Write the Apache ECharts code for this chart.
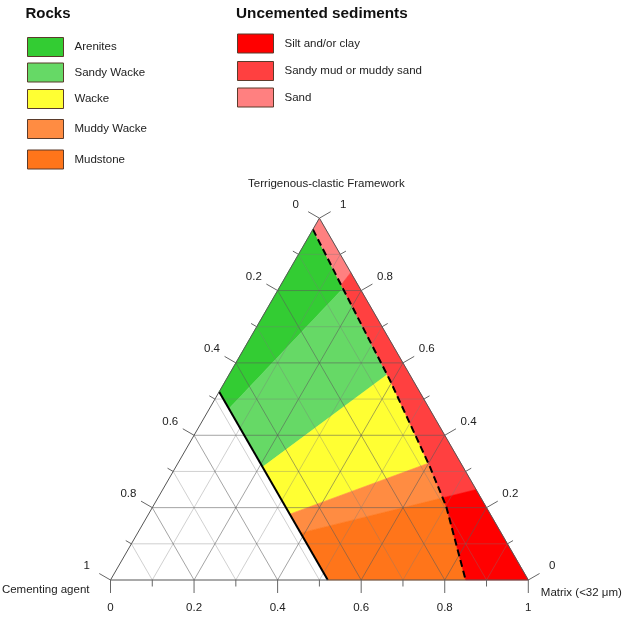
<!DOCTYPE html>
<html><head><meta charset="utf-8">
<script src="https://cdn.jsdelivr.net/npm/echarts@6/dist/echarts.min.js"></script>
<style>html,body{margin:0;padding:0;background:#fff}#c{width:636px;height:635px}</style>
</head><body><div id="c"></div>
<script>
// ---------------- data ----------------
const rockNames = ['Arenites', 'Sandy Wacke', 'Wacke', 'Muddy Wacke', 'Mudstone'];
const rockColors = ['#33CC33', '#66D966', '#FFFF33', '#FF8C42', '#FF751A'];
// class limits as matrix / (matrix + framework): at the cement limit line and at the dashed line
const rockBreaksAtCementLimit = [0, 0.09, 0.40, 0.65, 0.75, 1];
const rockBreaksAtCurve = [0, 0.16, 0.40, 0.65, 0.75, 1];
const sedimentNames = ['Silt and/or clay', 'Sandy mud or muddy sand', 'Sand'];
const sedimentColors = ['#FF0000', '#FF4040', '#FF8080'];
// ascending ratio: Sand | Sandy mud | Silt
const sedimentRatioBreaks = [0, 0.15, 0.75, 1];
const sedimentOrderByRatio = ['Sand', 'Sandy mud or muddy sand', 'Silt and/or clay'];
// solid line: cementing-agent fraction limit
const cementLimit = 0.48;
// dashed line between rocks and uncemented sediments (ratio, cementing agent)
const curveRatio = [0, 0.162, 0.415, 0.66, 0.776, 1];
const curveCement = [0.031, 0.041, 0.055, 0.079, 0.095, 0.15];
// axis ticks
const tickValues = [0, 0.1, 0.2, 0.3, 0.4, 0.5, 0.6, 0.7, 0.8, 0.9, 1];
const tickLabels = ['0', '', '0.2', '', '0.4', '', '0.6', '', '0.8', '', '1'];
const axisTitles = ['Terrigenous-clastic Framework', 'Cementing agent', 'Matrix (<32 \u03bcm)'];

// ---------------- helpers ----------------
const S3 = Math.sqrt(3) / 2;
const FONT = '"Liberation Sans", Arial, Helvetica, sans-serif';
function toXY(F, M) { return [M + F / 2, F * S3]; }
function fromRC(r, C) { return toXY((1 - C) * (1 - r), (1 - C) * r); }
function curveAt(r) {
  for (let i = 0; i < curveRatio.length - 1; i++) {
    if (r <= curveRatio[i + 1]) {
      const t = (r - curveRatio[i]) / (curveRatio[i + 1] - curveRatio[i]);
      return curveCement[i] + t * (curveCement[i + 1] - curveCement[i]);
    }
  }
  return curveCement[curveCement.length - 1];
}
function rockPoly(a1, a2, b1, b2) {
  const pts = [[a1, cementLimit], [a2, cementLimit], [b2, curveAt(b2)]];
  for (let i = curveRatio.length - 1; i >= 0; i--) {
    if (curveRatio[i] > b1 && curveRatio[i] < b2) pts.push([curveRatio[i], curveCement[i]]);
  }
  pts.push([b1, curveAt(b1)]);
  return pts.map(p => fromRC(p[0], p[1]));
}
function sedPoly(r1, r2) {
  const pts = [[r1, 0], [r1, curveAt(r1)]];
  for (let i = 0; i < curveRatio.length; i++) {
    if (curveRatio[i] > r1 && curveRatio[i] < r2) pts.push([curveRatio[i], curveCement[i]]);
  }
  pts.push([r2, curveAt(r2)], [r2, 0]);
  return pts.map(p => fromRC(p[0], p[1]));
}
function polySeries(name, color, verts) {
  return {
    type: 'custom', name: name, coordinateSystem: 'cartesian2d', z: 1, silent: true,
    itemStyle: { color: color }, clip: false,
    data: [[0.5, 0.5]],
    renderItem: (params, api) => ({
      type: 'polygon',
      shape: { points: verts.map(v => api.coord(v)) },
      style: { fill: color, stroke: color, lineWidth: 0.6 }
    })
  };
}

const series = [];
rockNames.forEach((n, i) => series.push(polySeries(n, rockColors[i],
  rockPoly(rockBreaksAtCementLimit[i], rockBreaksAtCementLimit[i + 1], rockBreaksAtCurve[i], rockBreaksAtCurve[i + 1]))));
sedimentOrderByRatio.forEach((n, i) => {
  const ci = sedimentNames.indexOf(n);
  series.push(polySeries(n, sedimentColors[ci], sedPoly(sedimentRatioBreaks[i], sedimentRatioBreaks[i + 1])));
});

// grid lines
const gridLines = [];
for (let k = 1; k <= 9; k++) {
  const v = tickValues[k], major = (k % 2 === 0);
  gridLines.push([toXY(v, 0), toXY(v, 1 - v), major]);        // constant framework
  gridLines.push([toXY(0, v), toXY(1 - v, v), major]);        // constant matrix
  gridLines.push([toXY(0, 1 - v), toXY(1 - v, 0), major]);    // constant cement
}
series.push({
  type: 'custom', coordinateSystem: 'cartesian2d', z: 2, silent: true, clip: false,
  data: gridLines.map((g, i) => [i]),
  renderItem: (params, api) => {
    const g = gridLines[params.dataIndex];
    const a = api.coord(g[0]), b = api.coord(g[1]);
    return { type: 'line', shape: { x1: a[0], y1: a[1], x2: b[0], y2: b[1] },
      style: { stroke: g[2] ? 'rgba(90,90,90,0.55)' : 'rgba(120,120,120,0.35)', lineWidth: 1 } };
  }
});

// cement limit (solid) and sediment threshold (dashed)
series.push({
  type: 'line', z: 3, silent: true, symbol: 'none', clip: false,
  data: [fromRC(0, cementLimit), fromRC(1, cementLimit)],
  lineStyle: { color: '#000', width: 2 }
});
series.push({
  type: 'line', z: 3, silent: true, symbol: 'none', clip: false,
  data: curveRatio.map((r, i) => fromRC(r, curveCement[i])),
  lineStyle: { color: '#000', width: 2, type: [7, 4] }
});
// triangle outline
series.push({
  type: 'line', z: 4, silent: true, symbol: 'none', clip: false,
  data: [toXY(0, 0), toXY(0, 1), toXY(1, 0), toXY(0, 0)],
  lineStyle: { color: '#555', width: 1 }
});

// ticks, tick labels and axis titles
const ticks = [];
tickValues.forEach((v, k) => {
  ticks.push({ p: toXY(1 - v, 0), d: [-S3, -0.5], major: k % 2 === 0, label: tickLabels[k] }); // cementing agent (left)
  ticks.push({ p: toXY(v, 1 - v), d: [S3, -0.5], major: k % 2 === 0, label: tickLabels[k] });  // framework (right)
  ticks.push({ p: toXY(0, v), d: [0, 1], major: k % 2 === 0, label: tickLabels[k] });         // matrix (bottom)
});
series.push({
  type: 'custom', coordinateSystem: 'cartesian2d', z: 5, silent: true, clip: false,
  data: ticks.map((t, i) => [i]),
  renderItem: (params, api) => {
    const t = ticks[params.dataIndex];
    const p = api.coord(t.p);
    const len = t.major ? 13 : 6.5;
    const children = [{ type: 'line', shape: { x1: p[0], y1: p[1], x2: p[0] + t.d[0] * len, y2: p[1] + t.d[1] * len },
      style: { stroke: '#666', lineWidth: 1 } }];
    if (t.label) {
      const dist = t.d[1] === 1 ? 28 : 27.5;
      children.push({ type: 'text', x: p[0] + t.d[0] * dist, y: p[1] + t.d[1] * dist,
        style: { text: t.label, font: '11.5px ' + FONT, fill: '#222', align: 'center', verticalAlign: 'middle',
          textAlign: 'center', textVerticalAlign: 'middle' } });
    }
    return { type: 'group', children: children };
  }
});
series.push({
  type: 'custom', coordinateSystem: 'cartesian2d', z: 5, silent: true, clip: false,
  data: [[0]],
  renderItem: (params, api) => {
    const T = api.coord(toXY(1, 0)), L = api.coord(toXY(0, 0)), R = api.coord(toXY(0, 1));
    const st = (txt, al) => ({ text: txt, font: '11.5px ' + FONT, fill: '#222', align: al, verticalAlign: 'middle',
      textAlign: al, textVerticalAlign: 'middle' });
    return { type: 'group', children: [
      { type: 'text', x: T[0] + 7, y: T[1] - 34.5, style: st(axisTitles[0], 'center') },
      { type: 'text', x: L[0] - 21, y: L[1] + 9.5, style: st(axisTitles[1], 'right') },
      { type: 'text', x: R[0] + 12.5, y: R[1] + 12.5, style: st(axisTitles[2], 'left') }
    ] };
  }
});

// legends
const rockLegendTop = [37, 62.5, 89, 119, 149.5];
const sedLegendTop = [33.5, 61, 87.5];
const legendBase = {
  icon: 'rect', itemWidth: 36, itemHeight: 19, padding: 0, selectedMode: false, orient: 'vertical',
  itemStyle: { borderColor: '#5a3b2b', borderWidth: 1 },
  textStyle: { fontSize: 11.5, color: '#222', fontFamily: FONT, padding: [0, 0, 0, 6] }
};
const legends = [];
rockNames.forEach((n, i) => legends.push(Object.assign({}, legendBase, { data: [n], left: 27, top: rockLegendTop[i] })));
sedimentNames.forEach((n, i) => legends.push(Object.assign({}, legendBase, { data: [n], left: 237, top: sedLegendTop[i] })));

const chart = echarts.init(document.getElementById('c'), null, { renderer: 'canvas' });
chart.setOption({
  animation: false,
  backgroundColor: '#fff',
  title: [
    { text: 'Rocks', left: 25.5, top: 6.5, padding: 0, textStyle: { fontSize: 15, fontWeight: 'bold', color: '#111', fontFamily: FONT } },
    { text: 'Uncemented sediments', left: 236, top: 6.5, padding: 0, textStyle: { fontSize: 15.3, fontWeight: 'bold', color: '#111', fontFamily: FONT } }
  ],
  legend: legends,
  grid: { left: 110.5, top: 162.2, width: 417.8, height: 417.8, containLabel: false },
  xAxis: { type: 'value', min: 0, max: 1, show: false },
  yAxis: { type: 'value', min: 0, max: 1, show: false },
  series: series
});
</script></body></html>
